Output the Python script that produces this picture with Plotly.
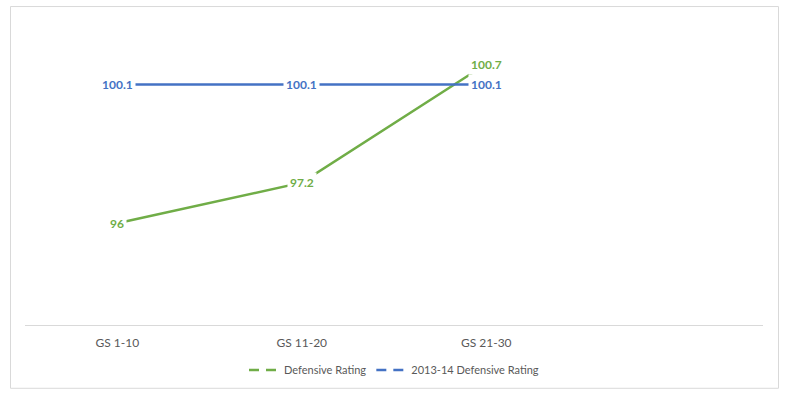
import plotly.graph_objects as go

categories = ["GS 1-10", "GS 11-20", "GS 21-30"]
defensive_rating = [96, 97.2, 100.7]
rating_2013_14 = [100.1, 100.1, 100.1]
series_names = ["Defensive Rating", "2013-14 Defensive Rating"]
colors = ["#70AD47", "#4472C4"]

x_idx = list(range(len(categories)))
W, H = 789, 395
ml, mr, mt, mb = 25, 26, 20, 69

fig = go.Figure()
for name, vals, col in zip(series_names, [defensive_rating, rating_2013_14], colors):
    fig.add_trace(go.Scatter(x=x_idx, y=vals, mode="lines", name=name,
                             line=dict(color=col, width=2.5), showlegend=False,
                             legendgroup=name, hoverinfo="skip"))
# legend entries (dashed symbol as in the reference legend)
for name, col in zip(series_names, colors):
    fig.add_trace(go.Scatter(x=[None], y=[None], mode="lines", name=name,
                             line=dict(color=col, width=2.5, dash="10px,7px"),
                             legendgroup=name, showlegend=True))

annotations = []
for vals, col in zip([defensive_rating, rating_2013_14], colors):
    for xi, v in zip(x_idx, vals):
        annotations.append(dict(x=xi, y=v, xref="x", yref="y", text=f"<b>{v:g}</b>",
                                showarrow=False, bgcolor="white", borderpad=2,
                                font=dict(family="Lato", size=12, color=col),
                                xanchor="center", yanchor="middle"))

pw = W - ml - mr
ph = H - mt - mb
fig.add_shape(type="rect", xref="paper", yref="paper",
              x0=(10.5 - ml) / pw, x1=(778.5 - ml) / pw,
              y0=(H - mb - 389.5) / ph, y1=(H - mb - 6.5) / ph,
              line=dict(color="#D9D9D9", width=1), fillcolor="rgba(0,0,0,0)", layer="below")

fig.update_layout(
    width=W, height=H,
    margin=dict(l=ml, r=mr, t=mt, b=mb),
    paper_bgcolor="white", plot_bgcolor="white",
    font=dict(family="Lato", size=12, color="#595959"),
    xaxis=dict(range=[-0.5, 3.5], tickmode="array", tickvals=x_idx, ticktext=categories,
               showgrid=False, zeroline=False, showline=True, linecolor="#D9D9D9",
               linewidth=1, ticks="", ticklabelstandoff=7,
               tickfont=dict(family="Lato", size=12, color="#595959")),
    yaxis=dict(range=[93, 102], visible=False, showgrid=False, zeroline=False),
    legend=dict(orientation="h", x=0.5, xanchor="center", y=(H - mb - 370) / ph,
                yanchor="middle", font=dict(family="Lato", size=11, color="#595959"),
                itemwidth=30, bgcolor="rgba(0,0,0,0)"),
    annotations=annotations,
    showlegend=True,
)

fig.write_html("out.html", config={"displayModeBar": False},
               post_script="document.body.style.margin='0';")
